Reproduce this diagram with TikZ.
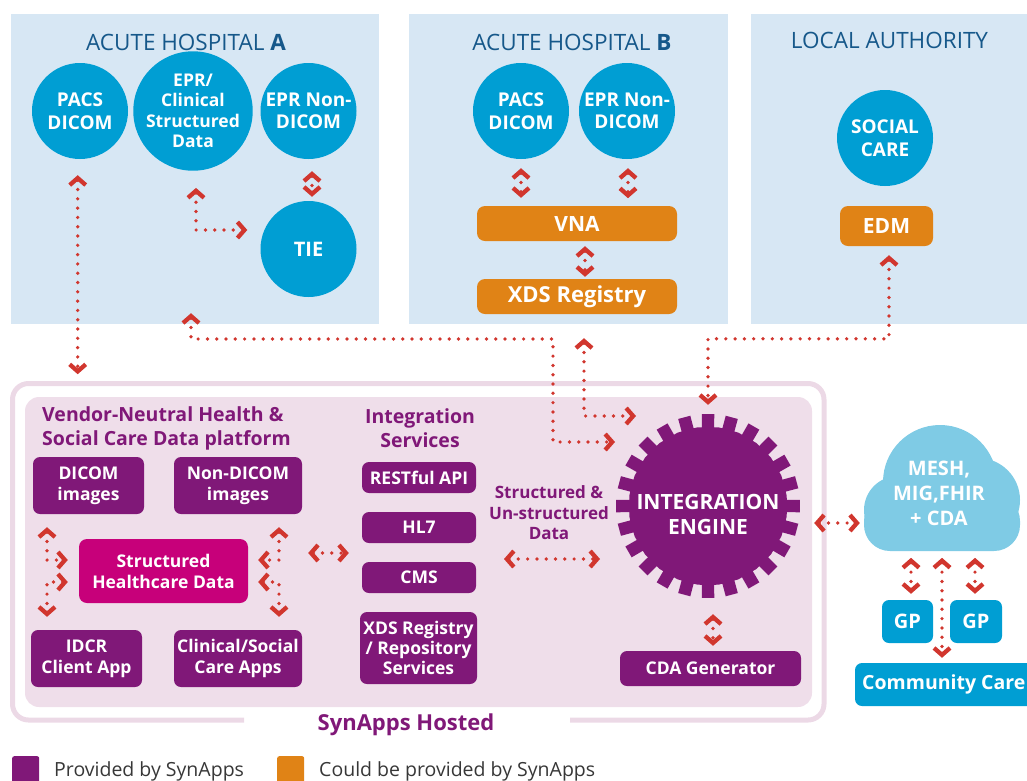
\documentclass[tikz,border=0pt]{standalone}
\usepackage{fontspec}
\setmainfont{Open Sans}
\usetikzlibrary{arrows.meta}
\newcommand{\fsz}[2]{\fontsize{#1}{#2}\selectfont}
\definecolor{boxbg}{RGB}{215,231,244}
\definecolor{titleblue}{RGB}{22,88,138}
\definecolor{cblue}{RGB}{0,158,211}
\definecolor{orng}{RGB}{224,131,22}
\definecolor{purp}{RGB}{128,24,120}
\definecolor{magen}{RGB}{199,0,122}
\definecolor{pinkfill}{RGB}{239,222,234}
\definecolor{pinkline}{RGB}{236,217,230}
\definecolor{arrred}{RGB}{209,54,46}
\definecolor{cloudc}{RGB}{127,203,229}
\definecolor{legtext}{RGB}{55,55,55}
\begin{document}
\begin{tikzpicture}[x=1pt,y=-1pt,
  hosp/.style={fill=boxbg, inner sep=0, minimum height=310pt},
  htitle/.style={text=titleblue, font=\fsz{22.5}{27}, inner sep=0},
  circ/.style={circle, fill=cblue, text=white, font=\bfseries\fsz{19}{22.5}, align=center, minimum size=96pt, inner sep=0},
  obox/.style={fill=orng, rounded corners=8pt, text=white, font=\bfseries\fsz{21}{25}, inner sep=0, minimum height=35pt},
  pbox/.style={fill=purp, rounded corners=7pt, text=white, font=\bfseries\fsz{17.5}{21}, align=center, inner sep=0},
  bbox/.style={fill=cblue, rounded corners=7pt, text=white, font=\bfseries\fsz{20}{24}, inner sep=0},
  ptext/.style={text=purp, font=\bfseries\fsz{19.5}{24}, inner sep=0},
  mytip/.tip={Straight Barb[length=7pt,width=16pt,line width=4.3pt]},
  darr/.style={draw=arrred, line width=3.7pt, line cap=round, dash pattern=on 0pt off 9.3pt, arrows={mytip-mytip}},
  legsq/.style={minimum size=27pt, rounded corners=2pt, inner sep=0, anchor=north west},
  legtx/.style={anchor=base west, font=\fsz{19.5}{23}, text=legtext, inner sep=0}
]
\useasboundingbox (0,0) rectangle (1027,780);
\clip (0,0) rectangle (1027,780);

% hospital / authority panels
\node[hosp, minimum width=368pt] (hospA) at (195,169) {};
\node[hosp, minimum width=319pt] (hospB) at (568.5,169) {};
\node[hosp, minimum width=290pt] (la) at (896,169) {};
\node[htitle] (tA) at (186,42) {ACUTE HOSPITAL \textbf{A}};
\node[htitle] (tB) at (572,42) {ACUTE HOSPITAL \textbf{B}};
\node[htitle] (tL) at (889.5,40) {LOCAL AUTHORITY};

\node[circ] (pacsA) at (80,111) {PACS\\DICOM};
\node[circ, font=\bfseries\fsz{17.5}{20.5}] (eprA) at (193,111) {EPR/\\Clinical\\Structured\\Data};
\node[circ] (eprNonA) at (308.5,111) {EPR Non-\\DICOM};
\node[circ, font=\bfseries\fsz{20}{24}] (tie) at (308.5,249) {TIE};
\node[circ] (pacsB) at (521,111) {PACS\\DICOM};
\node[circ] (eprNonB) at (627,111) {EPR Non-\\DICOM};
\node[circ] (social) at (885,138) {SOCIAL\\CARE};

\node[obox, minimum width=200pt] (vna) at (577,223.5) {VNA};
\node[obox, minimum width=200pt, font=\bfseries\fsz{22}{26}] (xdsB) at (577,296.5) {XDS Registry};
\node[obox, minimum width=93pt, minimum height=40pt] (edm) at (886.5,226) {EDM};

% SynApps hosted frame
\draw[pinkline, line width=5pt, rounded corners=16pt] (244,720) -- (12.5,720) -- (12.5,383.5) -- (824,383.5) -- (824,720) -- (570,720);
\node[fill=pinkfill, rounded corners=14pt, minimum width=787pt, minimum height=310pt, inner sep=0] (synin) at (418.5,552) {};
\node[text=purp, font=\bfseries\fsz{22}{26}, anchor=base, inner sep=0] (hosted) at (406,730) {SynApps Hosted};

\node[ptext, anchor=north west, align=left] (vnt) at (42,406) {Vendor-Neutral Health \&\\Social Care Data platform};
\node[ptext, align=center] (ist) at (420,428) {Integration\\Services};

\node[pbox, minimum width=111pt, minimum height=57pt] (dicom) at (88.5,485.5) {DICOM\\images};
\node[pbox, minimum width=128pt, minimum height=57pt] (nondicom) at (238,485.5) {Non-DICOM\\images};
\node[pbox, fill=magen, minimum width=169pt, minimum height=64pt, rounded corners=8pt] (shd) at (163.5,571) {Structured\\Healthcare Data};
\node[pbox, minimum width=111pt, minimum height=57pt] (idcr) at (86.5,658.5) {IDCR\\Client App};
\node[pbox, minimum width=128pt, minimum height=57pt] (clin) at (238,658.5) {Clinical/Social\\Care Apps};
\node[pbox, minimum width=114pt, minimum height=31pt] (rest) at (419,477.5) {RESTful API};
\node[pbox, minimum width=114pt, minimum height=31pt] (hl7) at (419,527.5) {HL7};
\node[pbox, minimum width=114pt, minimum height=31pt] (cms) at (419,577.5) {CMS};
\node[pbox, minimum width=117pt, minimum height=72pt, font=\bfseries\fsz{17.5}{20}] (xdss) at (418.5,648) {XDS Registry\\/ Repository\\Services};
\node[pbox, minimum width=181pt, minimum height=35pt] (cda) at (710.5,668.5) {CDA Generator};

\node[text=purp, font=\bfseries\fsz{17}{20.5}, align=center, inner sep=0] (data) at (549,513) {Structured \&\\Un-structured\\Data};

% integration engine gear
\coordinate (ec) at (708,506);
\begin{scope}[shift={(708,506)}]
\fill[purp] (-4.5:79) \foreach \i in {0,...,23}{ -- ({\i*15-4.5}:79) -- ({\i*15-3.9}:92) -- ({\i*15+3.9}:92) -- ({\i*15+4.5}:79) -- ({\i*15+7.5}:79.4) } -- cycle;
\end{scope}
\node[circle, minimum size=182pt, inner sep=0] (engine) at (ec) {};
\node[text=white, font=\bfseries\fsz{21}{25}, align=center, inner sep=0] (engtxt) at (708,514) {INTEGRATION\\ENGINE};

% cloud
\fill[cloudc] (898,510) circle[radius=34];
\fill[cloudc] (940,482) circle[radius=57];
\fill[cloudc] (978,500) circle[radius=42];
\fill[cloudc, rounded corners=26pt] (864,495) rectangle (1020,551);
\node[text=white, font=\bfseries\fsz{20}{25}, align=center, inner sep=0, minimum width=156pt, minimum height=126pt] (cloud) at (939,493) {MESH,\\MIG,FHIR\\+ CDA};

\node[bbox, minimum width=51pt, minimum height=43pt] (gp1) at (907.5,621.5) {GP};
\node[bbox, minimum width=52pt, minimum height=43pt] (gp2) at (976,621.5) {GP};
\node[fill=cblue, rounded corners=7pt, inner sep=0, minimum width=190pt, minimum height=43pt] (comm) at (950,684.5) {};
\node[text=white, font=\bfseries\fsz{19.5}{24}, inner sep=0, anchor=west] (commtxt) at (862,684.5) {Community Care};

% connectors
\draw[darr] ([xshift=-2.3pt,yshift=-16pt]pacsA.south) -- ([xshift=-2.3pt,yshift=-215pt]pacsA.south);
\draw[darr] ([xshift=3pt,yshift=-17pt]eprA.south) |- ([xshift=-13pt,yshift=19pt]tie.west);
\draw[darr] ([xshift=3.5pt,yshift=-12pt]eprNonA.south) -- ([xshift=3.5pt,yshift=4pt]tie.north);
\draw[darr] ([xshift=-4pt,yshift=11pt]hospA.south) |- (553,339) |- ([xshift=-93pt,yshift=64pt]engine.center);
\draw[darr] ([xshift=7pt,yshift=-24pt]xdsB.south) |- ([xshift=-72pt,yshift=90pt]engine.center);
\draw[darr] ([xshift=2.5pt,yshift=-9pt]edm.south) |- ([yshift=76pt]engine.north) -- ([yshift=10pt]engine.north);
\draw[darr] ([yshift=-9pt]pacsB.south) -- ([yshift=8pt]pacsB.south |- vna.north);
\draw[darr] ([xshift=1pt,yshift=-9pt]eprNonB.south) -- ([xshift=1pt,yshift=-39pt]eprNonB.south);
\draw[darr] ([xshift=8pt,yshift=-5pt]vna.south) -- ([xshift=8pt,yshift=2pt]xdsB.north);

\draw[darr] ([xshift=-41.5pt,yshift=-13pt]dicom.south) |- ([xshift=-11pt,yshift=11pt]shd.west);
\draw[darr] ([xshift=-11pt,yshift=-11pt]shd.west) -| ([xshift=-39.5pt,yshift=13pt]idcr.north);
\draw[darr] ([xshift=41pt,yshift=-13pt]nondicom.south) |- ([xshift=10pt,yshift=11pt]shd.east);
\draw[darr] ([xshift=10pt,yshift=-11pt]shd.east) -| ([xshift=41pt,yshift=13pt]clin.north);
\draw[darr] ([xshift=60pt,yshift=18pt]shd.east) -- ([xshift=-13pt,yshift=-25.5pt]hl7.west);
\draw[darr] ([xshift=-45pt,yshift=-46pt]data.center) -- ([xshift=-108pt,yshift=-53pt]engine.center);
\draw[darr] ([xshift=5pt,yshift=-17pt]engine.south) -- ([xshift=2.5pt,yshift=5pt]cda.north);
\draw[darr] ([xshift=15pt,yshift=-17pt]engine.east) -- ([xshift=-1pt,yshift=-30pt]cloud.west);
\draw[darr] ([xshift=3.5pt,yshift=42pt]gp1.north) -- ([xshift=3.5pt,yshift=6pt]gp1.north);
\draw[darr] ([xshift=-1pt,yshift=42pt]gp2.north) -- ([xshift=-1pt,yshift=6pt]gp2.north);
\draw[darr] ([xshift=-8pt,yshift=105pt]comm.north) -- ([xshift=-8pt,yshift=5pt]comm.north);

% legend
\node[legsq, fill=purp] (legP) at (12,756) {};
\node[legtx] (legPt) at (54,776) {Provided by SynApps};
\node[legsq, fill=orng] (legO) at (277,756) {};
\node[legtx] (legOt) at (319,776) {Could be provided by SynApps};
\end{tikzpicture}
\end{document}
